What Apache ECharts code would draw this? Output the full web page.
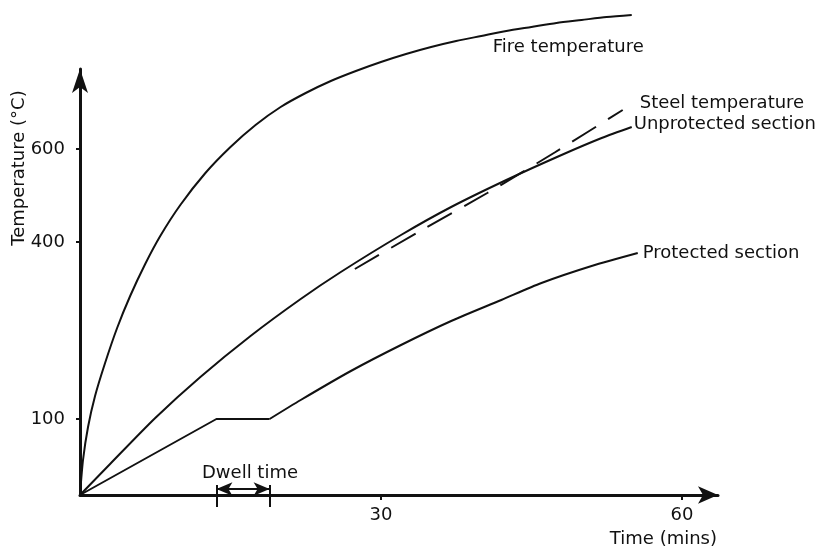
<!DOCTYPE html>
<html>
<head>
<meta charset="utf-8">
<script src="https://cdn.jsdelivr.net/npm/echarts@6/dist/echarts.min.js"></script>
<style>
    html, body { margin: 0; background: #fff; }
    #chart { width: 835px; height: 548px; }
</style>
</head>
<body>
<div id="chart"></div>
<script>
    // time in minutes, temperature in the drawing's own (schematic) height units
    const fireTime = [0, 0.3, 0.8, 1.5, 2.5, 3.7, 5, 6.5, 8, 10, 12.5, 15, 17.5, 20, 22.5, 25, 27.5, 30, 32.5, 35, 37.5, 40, 42.5, 45, 47.5, 50, 52.5, 55];
    const fireTemp = [0, 35, 68, 99, 132, 167, 199, 231, 259, 290, 322, 348, 370, 388, 402, 414, 424, 433, 441, 448, 454, 459, 464, 468, 472, 475, 478, 480];

    const unprotTime = [0, 3, 7.5, 12, 17, 22, 26, 32, 37, 42.5, 48, 52, 55];
    const unprotTemp = [0, 31, 77, 118, 159, 196, 223, 260, 288, 315, 340, 357, 368];

    const steelTime = [27.4, 33.9, 40.6, 47.4, 54.1];
    const steelTemp = [226, 264, 302, 343, 385];

    // protected section: linear rise, dwell plateau at 100, then a curve
    const protTime = [0, 13.6, 18.9, 22, 27, 32, 37, 42, 46, 51, 55.6];
    const protTemp = [0, 76, 76, 95, 124, 150, 174, 195, 212, 229, 242];

    const xTicks = [30, 60];
    const yTickPos = [76, 253, 346];
    const yTickLabels = ['100', '400', '600'];

    const dwellStart = 13.6;
    const dwellEnd = 18.9;

    const font = 'DejaVu Sans';
    const ink = '#111';

    function pairs(xs, ys) {
        return xs.map((x, i) => [x, ys[i]]);
    }

    function curveLabel(text, extra) {
        return Object.assign({
            show: true,
            formatter: text,
            fontFamily: font,
            fontSize: 18,
            color: ink
        }, extra);
    }

    const protPoints = pairs(protTime, protTemp);

    const chart = echarts.init(document.getElementById('chart'));

    const option = {
        animation: false,
        backgroundColor: '#fff',
        grid: { left: 80, right: 117, top: 69, bottom: 53 },
        xAxis: {
            type: 'value',
            min: 0,
            max: 63.6,
            axisLine: {
                show: true,
                symbol: ['none', 'arrow'],
                symbolSize: [13, 20],
                lineStyle: { color: ink, width: 3 }
            },
            axisTick: { show: true, customValues: xTicks, length: 5, lineStyle: { color: ink, width: 2 } },
            axisLabel: { customValues: xTicks, margin: 11, fontFamily: font, fontSize: 18, color: ink },
            splitLine: { show: false }
        },
        yAxis: {
            type: 'value',
            min: 0,
            max: 426,
            axisLine: {
                show: true,
                symbol: ['none', 'arrow'],
                symbolSize: [12, 24],
                lineStyle: { color: ink, width: 3 }
            },
            axisTick: { show: true, customValues: yTickPos, length: 4, lineStyle: { color: ink, width: 2 } },
            axisLabel: {
                customValues: yTickPos,
                formatter: v => yTickLabels[yTickPos.indexOf(v)],
                margin: 15,
                fontFamily: font,
                fontSize: 18,
                color: ink
            },
            splitLine: { show: false }
        },
        graphic: [
            {
                type: 'text',
                x: 19,
                y: 168,
                rotation: Math.PI / 2,
                style: { text: 'Temperature (°C)', font: '18px "DejaVu Sans"', fill: ink, align: 'center', verticalAlign: 'middle' }
            },
            {
                type: 'text',
                x: 717,
                y: 539,
                style: { text: 'Time (mins)', font: '18px "DejaVu Sans"', fill: ink, align: 'right', verticalAlign: 'middle' }
            }
        ],
        series: [
            {
                name: 'Fire temperature',
                type: 'line',
                data: pairs(fireTime, fireTemp),
                smooth: 0.25,
                symbol: 'none',
                clip: false,
                lineStyle: { color: ink, width: 2 },
                endLabel: curveLabel('Fire temperature', { align: 'right', distance: 0, offset: [12, 32] })
            },
            {
                name: 'Unprotected section',
                type: 'line',
                data: pairs(unprotTime, unprotTemp),
                smooth: 0.25,
                symbol: 'none',
                clip: false,
                lineStyle: { color: ink, width: 2 },
                endLabel: curveLabel('Unprotected section', { distance: 2, offset: [0, -3] })
            },
            {
                name: 'Steel temperature',
                type: 'line',
                data: pairs(steelTime, steelTemp),
                smooth: 0.25,
                symbol: 'none',
                clip: false,
                lineStyle: { color: ink, width: 2, type: [28, 14] },
                endLabel: curveLabel('Steel temperature', { distance: 17, offset: [0, -7] })
            },
            {
                name: 'Protected section (rise and dwell)',
                type: 'line',
                data: protPoints.slice(0, 3),
                symbol: 'none',
                clip: false,
                lineStyle: { color: ink, width: 2 }
            },
            {
                name: 'Protected section',
                type: 'line',
                data: protPoints.slice(2),
                smooth: 0.25,
                symbol: 'none',
                clip: false,
                lineStyle: { color: ink, width: 2 },
                endLabel: curveLabel('Protected section', { distance: 5 })
            },
            {
                name: 'Dwell bars',
                type: 'lines',
                coordinateSystem: 'cartesian2d',
                clip: false,
                silent: true,
                lineStyle: { color: ink, width: 2, opacity: 1 },
                data: [
                    { coords: [[dwellStart, 10], [dwellStart, -12]] },
                    { coords: [[dwellEnd, 10], [dwellEnd, -12]] }
                ]
            },
            {
                name: 'Dwell time',
                type: 'line',
                data: [],
                clip: false,
                markLine: {
                    silent: true,
                    symbol: ['arrow', 'arrow'],
                    symbolSize: [10, 16],
                    lineStyle: { type: 'solid', color: ink, width: 2 },
                    label: { show: false },
                    data: [
                        [
                            {
                                coord: [dwellStart, 6],
                                label: {
                                    show: true, position: 'middle', formatter: 'Dwell time', distance: 7,
                                    padding: [0, 0, 0, 14], fontFamily: font, fontSize: 18, color: ink
                                }
                            },
                            { coord: [dwellEnd, 6] }
                        ]
                    ]
                }
            }
        ]
    };

    chart.setOption(option);
</script>
</body>
</html>
